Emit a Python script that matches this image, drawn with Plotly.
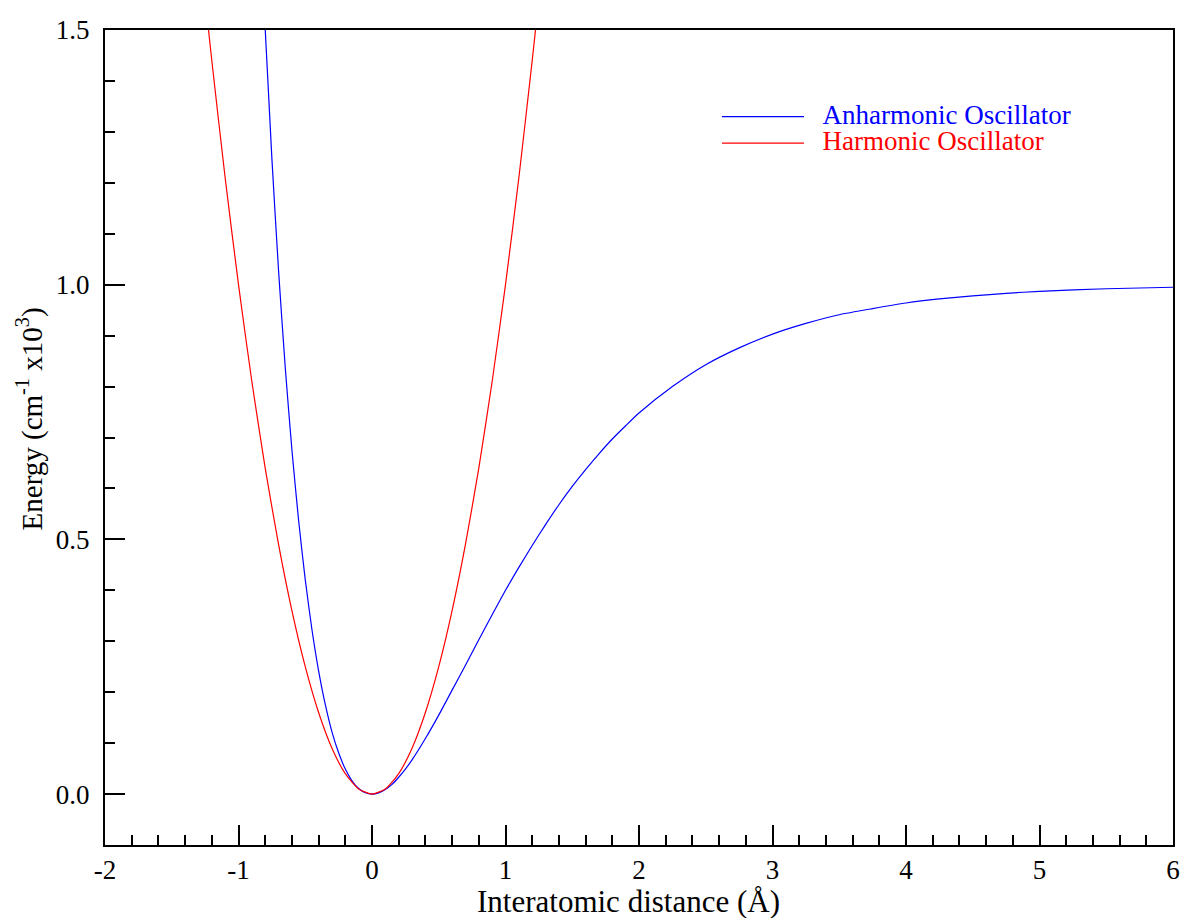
import plotly.graph_objects as go

# Anharmonic (Morse) curve
anh_x = [-0.80, -0.75, -0.70, -0.65, -0.60, -0.55, -0.50, -0.45, -0.40, -0.35, -0.30,
         -0.25, -0.20, -0.15, -0.10, -0.05, 0.00, 0.05, 0.10, 0.15, 0.20, 0.25, 0.30,
         0.40, 0.50, 0.60, 0.70, 0.80, 0.90, 1.00, 1.10, 1.20, 1.30, 1.40, 1.50, 1.60, 1.70,
         1.80, 1.90, 2.00, 2.25, 2.50, 2.75, 3.00, 3.25, 3.50, 3.75, 4.00, 4.25, 4.50, 4.75,
         5.00, 5.50, 6.00]
anh_y = [1.502, 1.248, 1.028, 0.838, 0.676, 0.538, 0.421, 0.323, 0.242, 0.176, 0.122,
         0.081, 0.049, 0.026, 0.011, 0.0026, 0.000, 0.0024, 0.009, 0.019, 0.033, 0.049, 0.067,
         0.109, 0.155, 0.204, 0.253, 0.303, 0.352, 0.400, 0.445, 0.488, 0.529, 0.568, 0.604, 0.637, 0.668,
         0.697, 0.723, 0.748, 0.800, 0.843, 0.876, 0.903, 0.924, 0.941, 0.953, 0.964, 0.972, 0.978, 0.983,
         0.987, 0.992, 0.995]

# Harmonic curve
har_x = [-1.23, -1.20, -1.10, -1.00, -0.90, -0.80, -0.70, -0.60, -0.50, -0.40, -0.30, -0.20,
         -0.10, 0.00, 0.10, 0.20, 0.30, 0.40, 0.50, 0.60, 0.70, 0.80, 0.90, 1.00, 1.10, 1.20, 1.23]
har_y = [1.513, 1.440, 1.210, 1.000, 0.810, 0.640, 0.490, 0.360, 0.250, 0.160, 0.090, 0.040,
         0.010, 0.000, 0.010, 0.040, 0.090, 0.160, 0.250, 0.360, 0.490, 0.640, 0.810, 1.000, 1.210, 1.440, 1.513]

x_ticks = [-2, -1, 0, 1, 2, 3, 4, 5, 6]
y_ticks = [0.0, 0.5, 1.0, 1.5]
y_tick_labels = ["0.0", "0.5", "1.0", "1.5"]

x_title = "Interatomic distance (Å)"
y_title = "Energy (cm<sup>-1</sup> x10<sup>3</sup>)"

FONT = "Liberation Serif"

fig = go.Figure()
fig.add_trace(go.Scatter(
    x=anh_x, y=anh_y, mode="lines", line=dict(color="#0000ff", width=1.2, shape="spline", smoothing=0.6),
    name="\u00a0\u00a0\u00a0<span style='color:#0000ff;font-size:27px'>Anharmonic Oscillator</span>"))
fig.add_trace(go.Scatter(
    x=har_x, y=har_y, mode="lines", line=dict(color="#ff0000", width=1.2, shape="spline", smoothing=0.6),
    name="\u00a0\u00a0\u00a0<span style='color:#ff0000;font-size:27px'>Harmonic Oscillator</span>"))

fig.update_layout(
    width=1187, height=918,
    margin=dict(l=105, r=7, t=30, b=73),
    paper_bgcolor="white", plot_bgcolor="white",
    font=dict(family=FONT, color="black", size=27),
    showlegend=True,
    legend=dict(x=0.573, y=0.916, xanchor="left", yanchor="top",
                bgcolor="rgba(0,0,0,0)", font=dict(size=18, family=FONT),
                itemwidth=82, tracegroupgap=0),
    annotations=[
        dict(text=x_title, xref="paper", yref="paper", x=0.4898, y=-0.0690,
             xanchor="center", yanchor="middle", showarrow=False,
             font=dict(size=31, family=FONT, color="black")),
        dict(text=y_title, xref="paper", yref="paper", x=-0.0698, y=0.5227,
             xanchor="center", yanchor="middle", showarrow=False, textangle=-90,
             font=dict(size=29, family=FONT, color="black")),
    ],
)
fig.update_xaxes(
    range=[-2, 6], tickmode="array", tickvals=x_ticks, ticktext=[str(v) for v in x_ticks],
    ticks="inside", ticklen=20, tickwidth=1.5, tickcolor="black",
    minor=dict(dtick=0.2, ticks="inside", ticklen=10, tickwidth=1.5, tickcolor="black", showgrid=False),
    showline=True, linecolor="black", linewidth=2, mirror=True,
    showgrid=False, zeroline=False,
    tickfont=dict(size=27, family=FONT),
)
fig.update_yaxes(
    range=[-0.1, 1.5], tickmode="array", tickvals=y_ticks, ticktext=y_tick_labels,
    ticks="inside", ticklen=20, tickwidth=1.5, tickcolor="black",
    minor=dict(tick0=0, dtick=0.1, ticks="inside", ticklen=10, tickwidth=1.5, tickcolor="black", showgrid=False),
    showline=True, linecolor="black", linewidth=2, mirror=True,
    showgrid=False, zeroline=False,
    ticklabelstandoff=8,
    tickfont=dict(size=27, family=FONT),
)

fig.write_html("out.html")
